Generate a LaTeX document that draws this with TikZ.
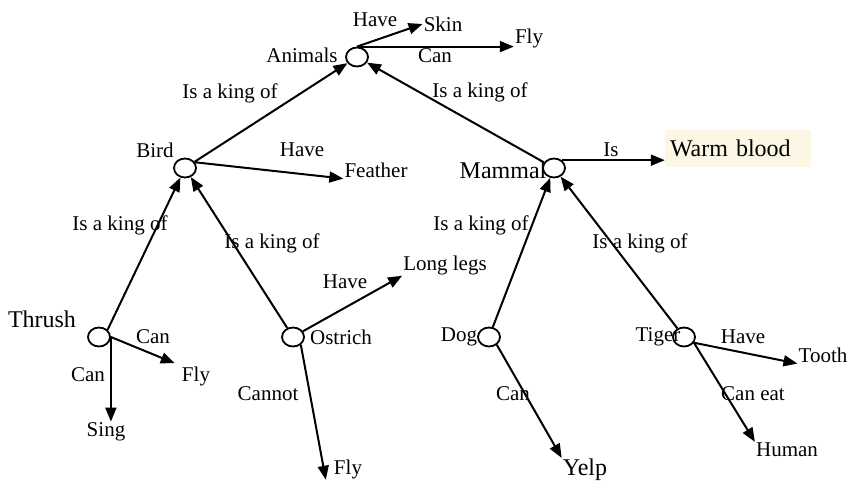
\documentclass[tikz,border=0pt]{standalone}
\usepackage{fontspec}
\setmainfont{Liberation Serif}
\usetikzlibrary{arrows.meta,shapes.geometric}
\definecolor{warmfill}{RGB}{252,246,228}
\begin{document}
\begin{tikzpicture}[x=1pt,y=-1pt,
  lab/.style={inner sep=1pt,font=\fontsize{21pt}{24pt}\selectfont},
  big/.style={inner sep=1pt,font=\fontsize{24pt}{28pt}\selectfont},
  concept/.style={draw=black,line width=1.8pt,ellipse,minimum width=22pt,minimum height=19pt,inner sep=0pt},
  rel/.style={line width=2pt,-{Triangle[length=14pt,width=11pt]}},
  edge/.style={line width=2pt}]
\useasboundingbox (0,0) rectangle (850,481);
% concept circles
\node[concept] (animals) at (357,57) {};
\node[concept] (bird) at (185,168) {};
\node[concept] (mammal) at (554,168) {};
\node[concept] (thrush) at (99,337) {};
\node[concept] (ostrich) at (293,337) {};
\node[concept] (dog) at (489,337) {};
\node[concept] (tiger) at (684,337) {};
% concept names
\node[lab] (tanimals) at (302,55) {Animals};
\node[lab] (tbird) at (155,150) {Bird};
\node[big] (tmammal) at (503,170) {Mammal};
\node[big] (tthrush) at (42,319) {Thrush};
\node[lab] (tostrich) at (341,337) {Ostrich};
\node[lab] (tdog) at (459,337) {Dog};
\node[lab] (ttiger) at (658,337) {Tiger};
% properties
\node[lab] (skin) at (443,24) {Skin};
\node[lab] (fly1) at (529,38) {Fly};
\node[lab] (feather) at (376,170) {Feather};
\node[big,fill=warmfill,minimum width=146pt,minimum height=37pt,text width=136pt,inner xsep=5pt,align=left] (warm) at (738,148.5) {Warm blood};
\node[lab] (sing) at (106,432) {Sing};
\node[lab] (fly2) at (196,376) {Fly};
\node[lab] (longlegs) at (445,265) {Long legs};
\node[lab] (fly3) at (348,469) {Fly};
\node[big] (yelp) at (585,470) {Yelp};
\node[lab] (tooth) at (823,355) {Tooth};
\node[lab] (human) at (787,450) {Human};
% relation labels
\node[lab] (l1) at (375,20) {Have};
\node[lab] (l2) at (435,56) {Can};
\node[lab] (l3) at (230,93) {Is a king of};
\node[lab] (l4) at (480,92) {Is a king of};
\node[lab] (l5) at (302,150) {Have};
\node[lab] (l6) at (611,150) {Is};
\node[lab] (l7) at (120,225) {Is a king of};
\node[lab] (l8) at (272,243) {Is a king of};
\node[lab] (l9) at (481,225) {Is a king of};
\node[lab] (l10) at (640,243) {Is a king of};
\node[lab] (l11) at (88,375) {Can};
\node[lab] (l12) at (153,337) {Can};
\node[lab] (l13) at (345,282) {Have};
\node[lab] (l14) at (268,394) {Cannot};
\node[lab] (l15) at (513,394) {Can};
\node[lab] (l16) at (743,337) {Have};
\node[lab] (l17) at (753,394) {Can eat};
% connectors
\draw[rel] (animals.north) -- (skin.west);
\draw[rel] (animals.north) -- (animals.north -| fly1.west);
\draw[rel] (bird) -- (animals);
\draw[rel] (mammal) -- (animals);
\draw[rel] (bird.30) -- (feather.south west);
\draw[rel] (mammal.45) -- (mammal.45 -| warm.west);
\draw[rel] (thrush.40) -- (bird);
\draw[rel] (ostrich) -- (bird);
\draw[rel] (thrush.east) -- (thrush.east |- sing.north);
\draw[rel] (thrush.east) -- ([xshift=-6pt,yshift=2pt]fly2.north west);
\draw[rel] (ostrich.30) -- (longlegs.south west);
\draw[rel] (ostrich.-45) -- ([xshift=-7pt]fly3.south west);
\draw[rel] (dog) -- (mammal);
\draw[rel] (tiger) -- (mammal);
\draw[rel] (dog.-45) -- (yelp.north west);
\draw[rel] (tiger.-30) -- (tooth.south west);
\draw[rel] (tiger.-30) -- (human.north west);
\end{tikzpicture}
\end{document}
